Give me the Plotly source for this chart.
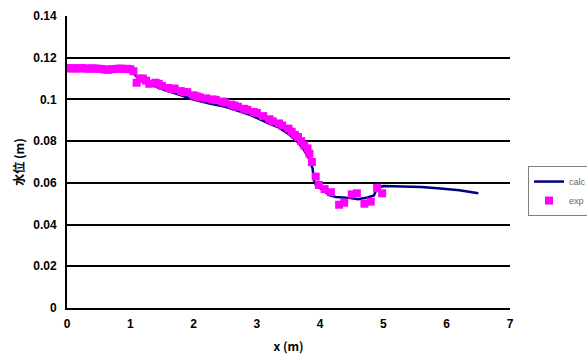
import plotly.graph_objects as go

# measured water level (exp)
exp_x = [0.0, 0.05, 0.1, 0.15, 0.2, 0.25, 0.3, 0.35, 0.4, 0.45, 0.5, 0.55, 0.6, 0.65,
         0.7, 0.75, 0.8, 0.85, 0.9, 0.95, 1.0, 1.05, 1.1, 1.15, 1.2, 1.25, 1.3, 1.4,
         1.45, 1.5, 1.6, 1.65, 1.7, 1.8, 1.85, 1.9, 2.0, 2.05, 2.1, 2.2, 2.3, 2.35,
         2.45, 2.5, 2.6, 2.65, 2.7, 2.8, 2.85, 2.95, 3.0, 3.1, 3.2, 3.25, 3.35, 3.4,
         3.5, 3.55, 3.6, 3.65, 3.7, 3.75, 3.8, 3.83, 3.87, 3.93, 3.98, 4.07, 4.17,
         4.3, 4.38, 4.5, 4.58, 4.7, 4.8, 4.9, 4.98]
exp_y = [0.115, 0.1148, 0.115, 0.1148, 0.1149, 0.115, 0.1148, 0.1147, 0.1149, 0.1148,
         0.1147, 0.1146, 0.1143, 0.1142, 0.1145, 0.1146, 0.1147, 0.1148, 0.1146, 0.1147,
         0.1145, 0.1135, 0.108, 0.110, 0.110, 0.109, 0.1075, 0.108, 0.1075, 0.1065,
         0.1055, 0.105, 0.1052, 0.104, 0.1035, 0.1035, 0.102, 0.1015, 0.101, 0.1005,
         0.100, 0.0998, 0.099, 0.0985, 0.0975, 0.097, 0.0965, 0.0955, 0.095, 0.094,
         0.0935, 0.092, 0.0905, 0.0895, 0.0885, 0.0875, 0.086, 0.0845, 0.083, 0.082,
         0.080, 0.078, 0.0765, 0.074, 0.070, 0.063, 0.059, 0.057, 0.0555, 0.0495,
         0.0505, 0.0545, 0.055, 0.050, 0.051, 0.0575, 0.055]

# computed water level (calc)
calc_x = [0.0, 0.5, 0.9, 1.0, 1.1, 1.2, 1.5, 1.8, 2.0, 2.25, 2.5, 2.7, 2.9, 3.15,
          3.35, 3.5, 3.65, 3.75, 3.82, 3.88, 3.91, 3.95, 4.05, 4.15, 4.25, 4.45, 4.6,
          4.75, 4.85, 4.9, 5.0, 5.3, 5.6, 5.9, 6.2, 6.5]
calc_y = [0.115, 0.1148, 0.1145, 0.114, 0.111, 0.1085, 0.105, 0.102, 0.100, 0.098,
          0.0965, 0.0945, 0.0925, 0.089, 0.0865, 0.0835, 0.0795, 0.0755, 0.072, 0.067,
          0.060, 0.0585, 0.0565, 0.054, 0.0532, 0.0528, 0.0522, 0.053, 0.054, 0.0575,
          0.0585, 0.0582, 0.058, 0.0573, 0.0565, 0.055]

x_ticks = [0, 1, 2, 3, 4, 5, 6, 7]
y_ticks = [0, 0.02, 0.04, 0.06, 0.08, 0.1, 0.12, 0.14]

tick_font = dict(family="Liberation Sans", size=12, color="black", weight="bold")
cjk_font = dict(family="Noto Sans CJK JP", size=12, color="black", weight="bold")

fig = go.Figure()
fig.add_trace(go.Scatter(x=calc_x, y=calc_y, mode="lines", name="calc",
                         line=dict(color="#000080", width=2.5)))
fig.add_trace(go.Scatter(x=exp_x, y=exp_y, mode="markers", name="exp",
                         marker=dict(symbol="square", size=8, color="#FF00FF",
                                     line=dict(width=0))))

fig.update_layout(
    width=587, height=361,
    margin=dict(l=67, r=77, t=16, b=53, autoexpand=False),
    paper_bgcolor="white", plot_bgcolor="white",
    showlegend=True,
    legend=dict(xref="container", yref="container", x=0.8995, y=0.54,
                xanchor="left", yanchor="top",
                bordercolor="#808080", borderwidth=1, bgcolor="white",
                font=dict(family="Liberation Sans", size=9, color="#666666"),
                itemwidth=30, tracegroupgap=6),
    xaxis=dict(range=[0, 7], tickvals=x_ticks, showgrid=False,
               showline=True, linecolor="black", linewidth=2, ticks="",
               tickfont=tick_font, zeroline=False, ticklabelstandoff=4,
               title=dict(text="x (m)", font=cjk_font, standoff=12)),
    yaxis=dict(range=[0, 0.14], tickvals=y_ticks, showgrid=True,
               gridcolor="black", gridwidth=1.5,
               showline=True, linecolor="black", linewidth=2, ticks="",
               tickfont=tick_font, zeroline=False, ticklabelstandoff=6,
               title=dict(text="水位 (m)", font=cjk_font, standoff=6)),
)

fig.write_html("out.html")
